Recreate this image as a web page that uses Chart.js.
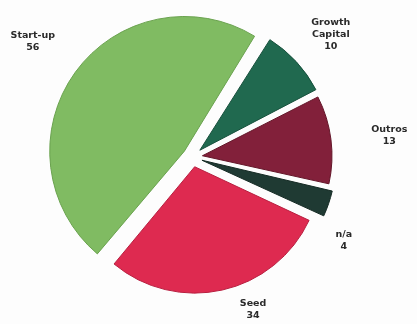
<!DOCTYPE html>
<html lang="pt">
<head>
<meta charset="UTF-8">
<title>Investimentos por fase</title>
<style>
    html, body { margin: 0; padding: 0; background: #fdfdfd; }
    #wrap { width: 417px; height: 324px; }
</style>
</head>
<body>
<div id="wrap"><canvas id="pie" width="417" height="324"></canvas></div>
<script src="https://cdn.jsdelivr.net/npm/chart.js"></script>
<script>
// dados
const fases = ['Growth Capital', 'Outros', 'n/a', 'Seed', 'Start-up'];
const valores = [10, 13, 4, 34, 56];
const cores = ['#20694f', '#82203a', '#1f3a33', '#de2a50', '#80bb62'];
const bordas = ['#17503c', '#641629', '#152a24', '#b81f40', '#6aa24f'];

// rótulos (multi-linha) e onde os pôr à volta do bolo
const rotulos = [['Growth', 'Capital', '10'], ['Outros', '13'], ['n/a', '4'], ['Seed', '34'], ['Start-up', '56']];
const distRotulo = [59, 72, 47, 38.5, 71];
const desvioRotulo = [1, 1, 10, -9, 0]; // graus

const rotulosFora = {
    id: 'rotulosFora',
    afterDatasetsDraw(chart) {
        const ctx = chart.ctx;
        const arcs = chart.getDatasetMeta(0).data;
        ctx.save();
        ctx.font = 'bold 9.5px "DejaVu Sans", sans-serif';
        ctx.fillStyle = '#2a2a2a';
        ctx.textAlign = 'center';
        ctx.textBaseline = 'middle';
        arcs.forEach((arc, i) => {
            const p = arc.getProps(['x', 'y', 'startAngle', 'endAngle', 'outerRadius'], true);
            const ang = (p.startAngle + p.endAngle) / 2 + desvioRotulo[i] * Math.PI / 180;
            const d = p.outerRadius + distRotulo[i];
            const cx = p.x + Math.cos(ang) * d;
            const cy = p.y + Math.sin(ang) * d;
            const linhas = rotulos[i];
            const h = 12;
            linhas.forEach((t, j) => {
                ctx.fillText(t, cx, cy + (j - (linhas.length - 1) / 2) * h);
            });
        });
        ctx.restore();
    }
};

new Chart(document.getElementById('pie'), {
    type: 'pie',
    data: {
        labels: fases,
        datasets: [{
            data: valores,
            backgroundColor: cores,
            borderColor: bordas,
            borderWidth: 1,
            offset: 40
        }]
    },
    options: {
        responsive: false,
        animation: false,
        rotation: 32,
        radius: 126,
        layout: { padding: { left: 0, right: 32, top: 0, bottom: 10 } },
        plugins: {
            legend: { display: false },
            tooltip: { enabled: false }
        }
    },
    plugins: [rotulosFora]
});
</script>
</body>
</html>
